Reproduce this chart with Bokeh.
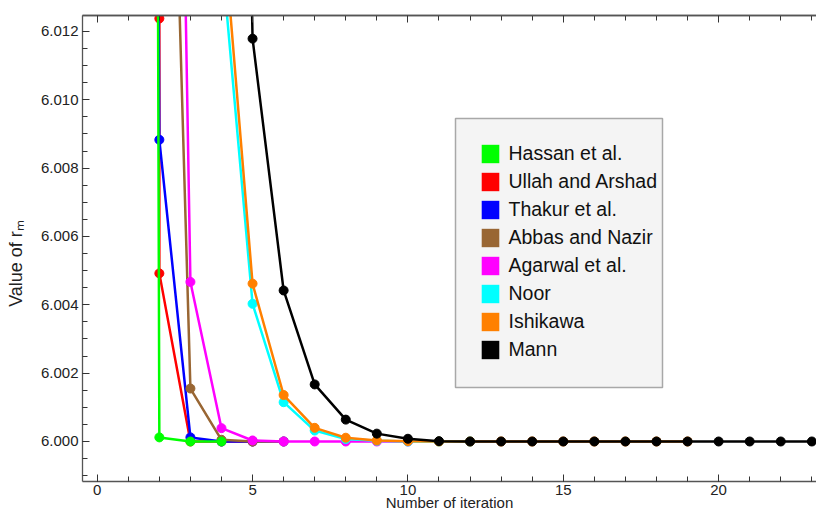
import math
from bokeh.plotting import figure
from bokeh.models import (FixedTicker, LinearAxis, PrintfTickFormatter,
                          Legend, LegendItem, BoxAnnotation, Range1d)
from bokeh.embed import file_html
from bokeh.resources import INLINE

# ---------------- data ----------------
series_names = ["Hassan et al.", "Ullah and Arshad", "Thakur et al.", "Abbas and Nazir",
                "Agarwal et al.", "Noor", "Ishikawa", "Mann"]
series_colors = ["#00ff00", "#ff0000", "#0000ff", "#996633",
                 "#ff00ff", "#00ffff", "#ff8000", "#000000"]

hassan_x = [1, 2, 3, 4]
hassan_y = [6.3, 6.00012, 6.0, 6.0]

ullah_x = [2, 2, 3, 4, 5]
ullah_y = [6.01238, 6.00492, 6.0, 6.0, 6.0]

thakur_x = [1, 2, 3, 4, 5, 6]
thakur_y = [6.2, 6.00883, 6.00012, 6.0, 6.0, 6.0]

abbas_x = [2, 3, 4, 5, 6]
abbas_y = [6.0332, 6.00155, 6.00005, 6.0, 6.0]

agarwal_x = [2, 3, 4, 5, 6, 7, 8, 9, 10]
agarwal_y = [6.057, 6.00467, 6.00039, 6.00003, 6.0, 6.0, 6.0, 6.0, 6.0]

noor_x = [4, 5, 6, 7, 8, 9, 10, 11, 12]
noor_y = [6.0143, 6.00403, 6.00115, 6.00032, 6.00007, 6.00002, 6.0, 6.0, 6.0]

ishikawa_x = [4, 5, 6, 7, 8, 9, 10, 11, 12, 13, 14, 15, 16, 17, 18, 19]
ishikawa_y = [6.0157, 6.00462, 6.00136, 6.00040, 6.00011, 6.00003, 6.00001, 6.0,
              6.0, 6.0, 6.0, 6.0, 6.0, 6.0, 6.0, 6.0]

mann_x = [4, 5, 6, 7, 8, 9, 10, 11, 12, 13, 14, 15, 16, 17, 18, 19, 20, 21, 22, 23]
mann_y = [6.06, 6.01179, 6.00442, 6.00167, 6.00064, 6.00023, 6.00008, 6.00001, 6.0,
          6.0, 6.0, 6.0, 6.0, 6.0, 6.0, 6.0, 6.0, 6.0, 6.0, 6.0]

x_major_ticks = [0, 5, 10, 15, 20]
x_minor_ticks = [0, 1, 2, 3, 4, 5, 6, 7, 8, 9, 10, 11, 12, 13, 14, 15, 16, 17, 18, 19,
                 20, 21, 22, 23]
y_major_ticks = [6.000, 6.002, 6.004, 6.006, 6.008, 6.010, 6.012]
y_minor_ticks = [5.9990, 5.9995, 6.0000, 6.0005, 6.0010, 6.0015, 6.0020, 6.0025, 6.0030,
                 6.0035, 6.0040, 6.0045, 6.0050, 6.0055, 6.0060, 6.0065, 6.0070, 6.0075,
                 6.0080, 6.0085, 6.0090, 6.0095, 6.0100, 6.0105, 6.0110, 6.0115, 6.0120]

x_label = "Number of iteration"
# trailing no-break spaces move the centred label a little towards the bottom
y_label = "Value of r\u2098" + "\u00a0" * 6

# ---------------- layout (pixels on the canvas) ----------------
W, H = 816, 514
FL, FR, FT, FB = 82, 816, 15, 481          # frame edges
X0, X1 = -0.4732, 23.15
Y0, Y1 = 5.998829, 6.012468


def px2x(px):
    return X0 + (px - FL) * (X1 - X0) / (FR - FL)


def py2y(py):
    return Y1 - (py - FT) * (Y1 - Y0) / (FB - FT)


FONT = "Liberation Sans"
p = figure(width=W, height=H, output_backend="svg", toolbar_location=None,
           x_range=Range1d(X0, X1), y_range=Range1d(Y0, Y1),
           min_border_left=FL, min_border_right=W - FR, min_border_top=FT,
           min_border_bottom=H - FB)
p.outline_line_color = None
p.grid.visible = False
p.background_fill_color = "white"
p.border_fill_color = "white"

AX_COL = "#555555"
TICK_COL = "#333333"


def style_axis(ax):
    ax.axis_line_color = AX_COL
    ax.axis_line_width = 1.3
    ax.major_tick_line_color = TICK_COL
    ax.minor_tick_line_color = TICK_COL
    ax.major_tick_in = 7
    ax.major_tick_out = 0
    ax.minor_tick_in = 5
    ax.minor_tick_out = 0
    ax.major_label_text_font = FONT
    ax.major_label_text_font_size = "15px"
    ax.major_label_text_color = "#222222"
    ax.major_label_standoff = 4
    ax.axis_label_text_font = FONT
    ax.axis_label_text_font_style = "normal"
    ax.axis_label_text_color = "#222222"


xa = p.xaxis[0]
xa.ticker = FixedTicker(ticks=x_major_ticks, minor_ticks=x_minor_ticks)
style_axis(xa)
xa.major_label_standoff = 3
xa.axis_label = x_label
xa.axis_label_text_font_size = "15px"
xa.axis_label_standoff = -4

ya = p.yaxis[0]
ya.ticker = FixedTicker(ticks=y_major_ticks, minor_ticks=y_minor_ticks)
ya.formatter = PrintfTickFormatter(format="%.3f")
style_axis(ya)
ya.axis_label = y_label
ya.axis_label_text_font_size = "18px"
ya.axis_label_standoff = 12

# top frame edge: minor ticks and longer major ticks, no labels
top_minor = LinearAxis(ticker=FixedTicker(ticks=[], minor_ticks=x_minor_ticks))
style_axis(top_minor)
p.add_layout(top_minor, "above")
top_major = LinearAxis(ticker=FixedTicker(ticks=[], minor_ticks=x_major_ticks))
style_axis(top_major)
top_major.minor_tick_in = 7
p.add_layout(top_major, "above")

# ---------------- series ----------------
series = {
    "Hassan et al.": (hassan_x, hassan_y),
    "Ullah and Arshad": (ullah_x, ullah_y),
    "Thakur et al.": (thakur_x, thakur_y),
    "Abbas and Nazir": (abbas_x, abbas_y),
    "Agarwal et al.": (agarwal_x, agarwal_y),
    "Noor": (noor_x, noor_y),
    "Ishikawa": (ishikawa_x, ishikawa_y),
    "Mann": (mann_x, mann_y),
}
color_of = dict(zip(series_names, series_colors))
draw_order = ["Ullah and Arshad", "Thakur et al.", "Abbas and Nazir", "Hassan et al.",
              "Agarwal et al.", "Noor", "Ishikawa", "Mann"]
for name in draw_order:
    xs, ys = series[name]
    c = color_of[name]
    p.line(xs, ys, line_color=c, line_width=2.5)
    p.scatter(xs, ys, size=9, fill_color=c, line_color=c)

# ---------------- legend ----------------
box = BoxAnnotation(left=px2x(455), right=px2x(662), bottom=py2y(387), top=py2y(118),
                    fill_color="#f4f4f4", fill_alpha=1.0,
                    line_color="#a8a8a8", line_width=1.5, line_alpha=1.0)
p.add_layout(box)

nan = float("nan")
items = []
for name in series_names:
    c = color_of[name]
    r = p.quad(left=[nan], right=[nan], bottom=[nan], top=[nan],
               fill_color=c, line_color=None)
    items.append(LegendItem(label=name, renderers=[r]))

legend = Legend(items=items, location=(478.5 - FL, FB - 360.8), orientation="vertical",
                glyph_width=22, glyph_height=23, label_height=23, spacing=5,
                label_standoff=8, padding=0, margin=0,
                background_fill_alpha=0.0, border_line_color=None,
                label_text_font=FONT, label_text_font_size="19.5px",
                label_text_color="#111111")
p.add_layout(legend, "center")

open("out.html", "w").write(file_html(p, INLINE))
